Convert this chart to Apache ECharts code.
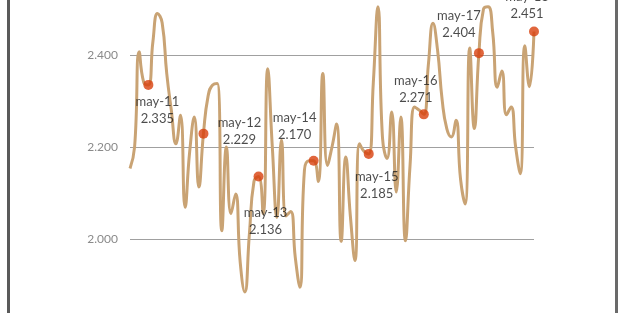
<!DOCTYPE html>
<html>
<head>
<meta charset="utf-8">
<script src="https://cdn.jsdelivr.net/npm/echarts@6/dist/echarts.min.js"></script>
<style>
html,body{margin:0;padding:0;background:#fff;width:626px;height:313px;overflow:hidden;position:relative;}
#chart{position:absolute;left:0;top:-37px;width:626px;height:368px;}
</style>
</head>
<body>
<div id="chart"></div>
<script>
// ---- data ----
const monthNames = ['ene','feb','mar','abr','may','jun','jul','ago','sep','oct','nov','dic'];
const startYear = 11, startMonth = 0, monthCount = 89; // ene-11 .. may-18
const values = [
  2.153, 2.20, 2.407, 2.34, 2.335, 2.43, 2.49, 2.47, 2.36, 2.28,
  2.207, 2.269, 2.069, 2.19, 2.265, 2.113, 2.229, 2.31, 2.335, 2.338,
  2.018, 2.20, 2.055, 2.098, 1.95, 1.885, 2.01, 2.125, 2.136, 2.055,
  2.37, 2.20, 2.047, 2.215, 2.05, 2.06, 1.96, 1.895, 2.15, 2.17,
  2.170, 2.125, 2.36, 2.16, 2.20, 2.25, 1.995, 2.178, 2.05, 1.953,
  2.207, 2.19, 2.185, 2.34, 2.505, 2.22, 2.175, 2.276, 2.102, 2.265,
  1.996, 2.16, 2.287, 2.28, 2.271, 2.38, 2.469, 2.41, 2.302, 2.24,
  2.222, 2.258, 2.13, 2.076, 2.415, 2.24, 2.404, 2.50, 2.505, 2.45,
  2.33, 2.365, 2.27, 2.287, 2.20, 2.142, 2.42, 2.331, 2.451
];
const highlightMonths = ['may-11','may-12','may-13','may-14','may-15','may-16','may-17','may-18'];
const yTicks = [1.8, 2.0, 2.2, 2.4, 2.6];

// ---- build ----
const categories = [];
for (let k = 0; k < monthCount; k++) {
  const m = (startMonth + k) % 12;
  const y = startYear + Math.floor((startMonth + k) / 12);
  categories.push(monthNames[m] + '-' + y);
}
// label placement (offset from dot) for each highlighted point
const labelOffsets = [[9,25],[36,-2],[7,45],[-19,-34],[8,31],[-8,-25],[-20,-29],[-7,-26]];

const dotData = highlightMonths.map((c, j) => {
  const idx = categories.indexOf(c);
  return {
    value: [c, values[idx]],
    label: { offset: labelOffsets[j] }
  };
});

const chart = echarts.init(document.getElementById('chart'), null, {renderer: 'canvas'});
chart.setOption({
  animation: false,
  backgroundColor: '#ffffff',
  grid: { left: 130, right: 92, top: 0, bottom: 0, containLabel: false, outerBoundsMode: 'none' },
  xAxis: {
    type: 'category',
    data: categories,
    boundaryGap: false,
    axisLine: { show: false },
    axisTick: { show: false },
    axisLabel: { show: false },
    splitLine: { show: false }
  },
  yAxis: {
    type: 'value',
    min: yTicks[0],
    max: yTicks[yTicks.length - 1],
    interval: 0.2,
    axisLine: { show: false },
    axisTick: { show: false },
    axisLabel: {
      formatter: v => v.toFixed(3),
      color: '#8a8a8a',
      fontFamily: 'Lato',
      fontSize: 12,
      margin: 12
    },
    splitLine: { lineStyle: { color: '#a0a0a0', width: 1 } }
  },
  series: [
    {
      type: 'line',
      data: values,
      smooth: 0.5,
      showSymbol: false,
      lineStyle: { color: '#c9a374', width: 3 },
      z: 2
    },
    {
      type: 'scatter',
      data: dotData,
      symbolSize: 10,
      itemStyle: { color: '#d8400c' },
      z: 3,
      label: {
        show: true,
        position: 'inside',
        align: 'center',
        verticalAlign: 'middle',
        formatter: p => p.value[0] + '\n' + p.value[1].toFixed(3),
        color: '#1e1e1e',
        fontFamily: 'Lato',
        fontSize: 13,
        lineHeight: 17
      }
    }
  ],
  graphic: [
    { type: 'rect', shape: { x: 7, y: 0, width: 3, height: 368 }, style: { fill: '#5a5a5a' } },
    { type: 'rect', shape: { x: 615, y: 0, width: 3, height: 368 }, style: { fill: '#6a6a6a' } }
  ]
});
</script>
</body>
</html>
